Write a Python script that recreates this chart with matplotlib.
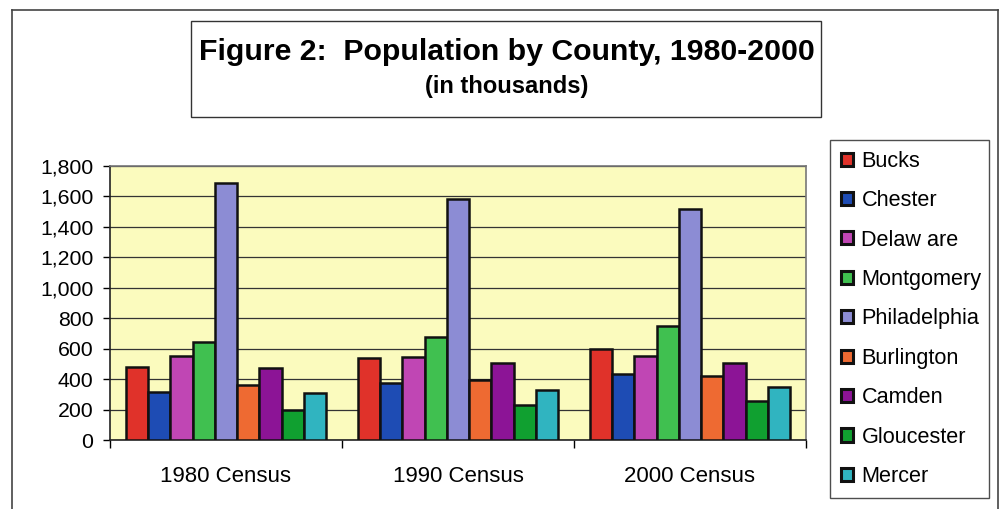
import matplotlib.pyplot as plt
import numpy as np
from matplotlib.patches import Rectangle
from matplotlib.lines import Line2D
from matplotlib.ticker import FuncFormatter

plt.rcParams['font.family'] = ['Liberation Sans', 'DejaVu Sans']

# data (thousands)
censuses = ['1980 Census', '1990 Census', '2000 Census']
counties = ['Bucks', 'Chester', 'Delaw are', 'Montgomery', 'Philadelphia',
            'Burlington', 'Camden', 'Gloucester', 'Mercer']
bucks = [479, 541, 598]
chester = [316, 376, 434]
delaware = [555, 548, 551]
montgomery = [643, 678, 750]
philadelphia = [1688, 1586, 1518]
burlington = [362, 395, 423]
camden = [471, 503, 509]
gloucester = [199, 230, 255]
mercer = [307, 326, 351]
series = [bucks, chester, delaware, montgomery, philadelphia,
          burlington, camden, gloucester, mercer]
colors = ['#E0322A', '#1E4CB4', '#C046B4', '#40C050', '#8C8CD4',
          '#EE6A32', '#8C1496', '#10A030', '#30B4C0']

W, H = 1001, 509
fig = plt.figure(figsize=(W / 100, H / 100), dpi=100)

ax = fig.add_axes([110 / W, 1 - 440 / H, 696 / W, 274 / H])
ax.set_facecolor('#FBFBBE')

x = np.arange(len(censuses))
bw = 1 / 10.4
n = len(series)
for i, (vals, c, name) in enumerate(zip(series, colors, counties)):
    ax.bar(x + (i - (n - 1) / 2) * bw, vals, width=bw, color=c,
           edgecolor='#111111', linewidth=1.8, label=name, zorder=3)

ax.set_xlim(-0.5, 2.5)
ax.set_ylim(0, 1800)
ax.set_yticks(range(0, 1801, 200))
ax.yaxis.set_major_formatter(FuncFormatter(lambda v, p: f'{int(v):,}'))
ax.grid(axis='y', color='#333333', linewidth=0.9, zorder=1)
ax.tick_params(axis='y', direction='out', length=5, width=1, pad=7, labelsize=15.3)

ax.set_xticks([-0.5, 0.5, 1.5, 2.5])
ax.set_xticklabels([])
ax.set_xticks(x, minor=True)
ax.set_xticklabels(censuses, minor=True)
ax.tick_params(axis='x', which='major', direction='out', length=6, width=1)
ax.tick_params(axis='x', which='minor', length=0, pad=19, labelsize=16)

for s in ['left', 'bottom']:
    ax.spines[s].set_color('#222222')
    ax.spines[s].set_linewidth(1.2)
for s in ['top', 'right']:
    ax.spines[s].set_color('#777777')
    ax.spines[s].set_linewidth(1.2)

leg = fig.legend(loc='upper left', bbox_to_anchor=(830 / W, 1 - 145 / H, 159 / W, 0.01),
                 mode='expand', fontsize=15.6, frameon=True, fancybox=False,
                 edgecolor='#222222', handlelength=0.55, handleheight=0.55,
                 handletextpad=0.4, labelspacing=0.85, borderpad=0.5,
                 borderaxespad=0)
leg.get_frame().set_linewidth(1.0)
for h in leg.legend_handles:
    h.set_linewidth(2.2)

# outer chart frame (bottom edge is cut off in the scan)
fig.add_artist(Line2D([12 / W, 12 / W], [1 - 10 / H, 0], transform=fig.transFigure,
                      color='#444444', linewidth=1.2))
fig.add_artist(Line2D([12 / W, 998 / W], [1 - 10 / H, 1 - 10 / H], transform=fig.transFigure,
                      color='#444444', linewidth=1.2))
fig.add_artist(Line2D([998 / W, 998 / W], [1 - 10 / H, 0], transform=fig.transFigure,
                      color='#444444', linewidth=1.2))

# title box
fig.add_artist(Rectangle((191 / W, 1 - 117 / H), 630 / W, 96 / H, transform=fig.transFigure,
                         fill=False, edgecolor='#333333', linewidth=1.0))
fig.text(507 / W, 1 - 52 / H, 'Figure 2:  Population by County, 1980-2000',
         ha='center', va='center', fontsize=21.8, fontweight='bold')
fig.text(507 / W, 1 - 87 / H, '(in thousands)',
         ha='center', va='center', fontsize=17, fontweight='bold')

fig.savefig('out.png', dpi=100)
